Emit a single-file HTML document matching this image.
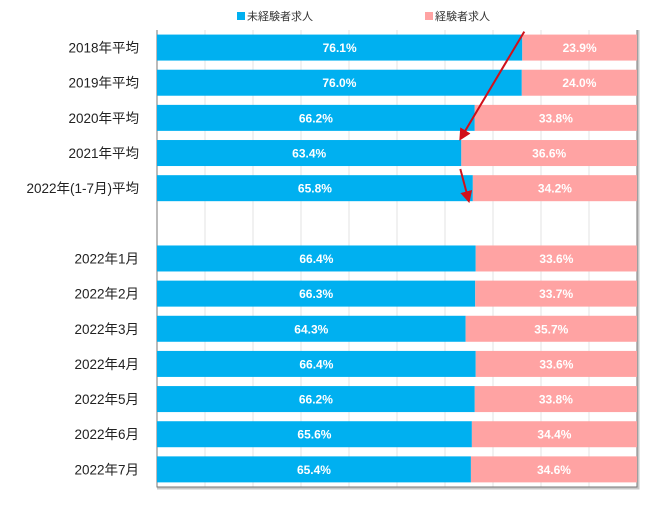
<!DOCTYPE html>
<html><head><meta charset="utf-8">
<style>
body{margin:0;background:#fff;width:650px;height:504px;overflow:hidden;font-family:"Liberation Sans","Noto Sans CJK JP",sans-serif;}
</style></head>
<body>
<svg id="chart" width="650" height="504" xmlns="http://www.w3.org/2000/svg"></svg>
<script>
const categories=["2018年平均","2019年平均","2020年平均","2021年平均","2022年(1-7月)平均","","2022年1月","2022年2月","2022年3月","2022年4月","2022年5月","2022年6月","2022年7月"];
const inexperienced=[76.1,76.0,66.2,63.4,65.8,null,66.4,66.3,64.3,66.4,66.2,65.6,65.4];
const experienced=[23.9,24.0,33.8,36.6,34.2,null,33.6,33.7,35.7,33.6,33.8,34.4,34.6];
const gridTicks=[0,10,20,30,40,50,60,70,80,90,100];
const seriesNames=["未経験者求人","経験者求人"];

const NS="http://www.w3.org/2000/svg";
const svg=document.getElementById('chart');
const L=157,R=637,T=30,slot=35.15,bh=26;
const B=T+slot*categories.length;
const x=v=>L+(R-L)*v/100;
const yTop=i=>T+i*slot+(slot-bh)/2;
function mk(t,a){const e=document.createElementNS(NS,t);for(const k in a)e.setAttribute(k,a[k]);svg.appendChild(e);return e;}

// gridlines
gridTicks.forEach(g=>{
  const l=mk('line',{x1:x(g),x2:x(g),y1:T,y2:B,stroke:'#e3e3e3','stroke-width':1});
  
  
});
// frame
const sh=mk('path',{d:`M${R+1.5},${T} V${B+1.5} H${L}`,fill:'none',stroke:'#c8c8c8','stroke-width':2});


const fr=mk('path',{d:`M${L},${T} V${B} H${R} V${T}`,fill:'none',stroke:'#777','stroke-width':1});



categories.forEach((c,i)=>{
  const y=yTop(i);
  if(c){
    const t=mk('text',{x:139,y:y+bh/2+5,'text-anchor':'end','font-size':13.5,fill:'#222'});
    t.textContent=c;
    
    
  }
  if(inexperienced[i]==null)return;
  const a=inexperienced[i],b=experienced[i];
  const r1=mk('rect',{x:x(0),y:y,width:x(a)-x(0),height:bh,fill:'#00b0f0'});
  
  
  const r2=mk('rect',{x:x(a),y:y,width:x(a+b)-x(a),height:bh,fill:'#ffa3a3'});
  
  
  const t1=mk('text',{x:(x(0)+x(a))/2,y:y+bh/2+4.5,'text-anchor':'middle','font-size':12,'font-weight':'bold',fill:'#fff'});
  t1.textContent=a.toFixed(1)+'%';
  
  
  const t2=mk('text',{x:(x(a)+x(a+b))/2,y:y+bh/2+4.5,'text-anchor':'middle','font-size':12,'font-weight':'bold',fill:'#fff'});
  t2.textContent=b.toFixed(1)+'%';
  
  
});

// legend
const lg=[[237,'#00b0f0'],[425,'#ffa3a3']];
lg.forEach((p,i)=>{
  const s=mk('rect',{x:p[0],y:12,width:8,height:8,fill:p[1]});
  
  
  const t=mk('text',{x:p[0]+10,y:20,'font-size':11,fill:'#333'});
  t.textContent=seriesNames[i];
  
  
});

// arrows
const defs=mk('defs',{});
defs.innerHTML='<marker id="ah" markerWidth="6" markerHeight="6" refX="5" refY="3" orient="auto" markerUnits="strokeWidth"><path d="M0,0 L6,3 L0,6 z" fill="#d0101a"/></marker>';
function arrow(x1,y1,x2,y2){
  const l=mk('line',{x1,y1,x2,y2,stroke:'#d0101a','stroke-width':2,'marker-end':'url(#ah)'});
  
  
}
arrow(x(inexperienced[0])+2,yTop(0)-3,x(inexperienced[3])-1,yTop(3)-1);
arrow(x(inexperienced[3])-1,yTop(3)+bh+3,x(inexperienced[4])-4,yTop(4)+bh);
</script>
</body></html>
